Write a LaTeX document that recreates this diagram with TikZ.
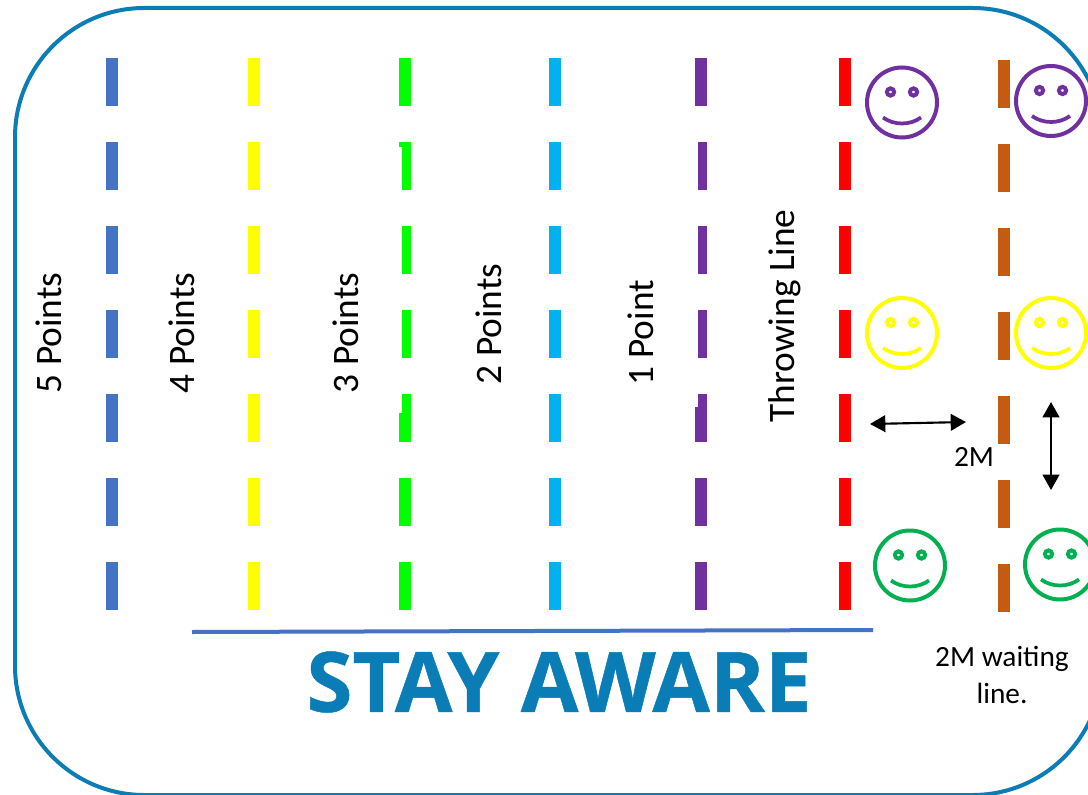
\documentclass[tikz,border=0pt]{standalone}
\usepackage{fontspec}
\setmainfont{Carlito}
\newfontfamily\stayfont[FakeBold=0.6]{Open Sans Bold}
\usetikzlibrary{arrows.meta}
\definecolor{cblue}{HTML}{4472C4}
\definecolor{cyellow}{HTML}{FFFF00}
\definecolor{cgreen}{HTML}{00FF00}
\definecolor{ccyan}{HTML}{00B0F0}
\definecolor{cpurple}{HTML}{7030A0}
\definecolor{cred}{HTML}{FF0000}
\definecolor{cbrown}{HTML}{C55A11}
\definecolor{cframe}{HTML}{0A7CB6}
\definecolor{csmile}{HTML}{00B050}
\tikzset{
  x=0.75pt,y=-0.75pt,
  dashbar/.style={fill=#1,draw=none},
  label text/.style={font=\fontsize{28}{32}\selectfont,rotate=90,inner sep=0pt,anchor=center},
  small text/.style={font=\fontsize{22}{26}\selectfont,inner sep=0pt,align=center},
  dblarrow/.style={draw=black,line width=1.6pt,{Triangle[length=11.5pt,width=12.5pt]}-{Triangle[length=11.5pt,width=12.5pt]}},
  pics/smiley/.style={code={
    \draw[#1,line width=3pt] (0,0) circle[radius=35];
    \draw[#1,line width=3pt,fill=white] (-11.5,-10.5) circle[radius=3.6];
    \draw[#1,line width=3pt,fill=white] (11.5,-10.5) circle[radius=3.6];
    \draw[#1,line width=2.8pt] (-19,15) .. controls (-8,23) and (8,23) .. (19,15);
  }}
}
\begin{document}
\begin{tikzpicture}
\useasboundingbox (0,0) rectangle (1088,795);
\clip (0,0) rectangle (1088,795);
\fill[white] (0,0) rectangle (1088,795);
% frame
\draw[cframe,line width=3pt,rounded corners=97pt] (15,8) rectangle (1102,795);
% dashes
\foreach \y in {58,142,226,310,394,478,562}{
  \fill[dashbar=cblue]   (106,\y) rectangle ++(12,48);
  \fill[dashbar=cyellow] (248,\y) rectangle ++(12,48);
  \fill[dashbar=cgreen]  (402,\y) rectangle ++(9,48);
  \fill[dashbar=ccyan]   (549,\y) rectangle ++(12,48);
  \fill[dashbar=cpurple] (698,\y) rectangle ++(9,48);
  \fill[dashbar=cred]    (839,\y) rectangle ++(12,48);
}
\foreach \y in {60,144,228,312,396,480,564}{
  \fill[dashbar=cbrown]  (998,\y) rectangle ++(12,48);
}
% wider parts of some dashes
\fill[dashbar=cgreen] (399,58) rectangle (402,106);
\fill[dashbar=cgreen] (399,142) rectangle (402,147);
\fill[dashbar=cgreen] (399,413) rectangle (402,442);
\fill[dashbar=cgreen] (399,478) rectangle (402,526);
\fill[dashbar=cgreen] (399,562) rectangle (402,610);
\fill[dashbar=cpurple] (695,58) rectangle (698,106);
\fill[dashbar=cpurple] (695,407) rectangle (698,442);
\fill[dashbar=cpurple] (695,478) rectangle (698,526);
\fill[dashbar=cpurple] (695,562) rectangle (698,610);
% labels
\node[label text] (p5) at (49,333) {5 Points};
\node[label text] (p4) at (182,333) {4 Points};
\node[label text] (p3) at (346,333) {3 Points};
\node[label text] (p2) at (489,324) {2 Points};
\node[label text] (p1) at (641,333) {1 Point};
\node[label text] (tl) at (785,316) {Throwing Line};
% smileys
\pic at (902,102.5) {smiley=cpurple};
\pic at (1051,101) {smiley=cpurple};
\pic at (902,333) {smiley=cyellow};
\pic at (1051,333) {smiley=cyellow};
\pic at (910,565.5) {smiley=csmile};
\pic at (1060,564.5) {smiley=csmile};
% arrows
\coordinate (ha) at (870,424);
\coordinate (hb) at (966,422);
\coordinate (va) at (1051,402);
\coordinate (vb) at (1051,490);
\draw[dblarrow] (ha) -- (hb);
\draw[dblarrow] (va) -- (vb);
\node[small text] (twom) at (974,457) {2M};
\node[small text] (wait) at (1002,675) {2M waiting\\[2pt]line.};
% bottom line
\coordinate (la) at (192,632);
\coordinate (lb) at (873,630);
\draw[cblue,line width=3pt] (la) -- (lb);
\node[font=\stayfont\fontsize{62.5}{66}\selectfont,text=cframe,inner sep=0pt] (stay) at (559,682) {STAY AWARE};
\end{tikzpicture}
\end{document}
